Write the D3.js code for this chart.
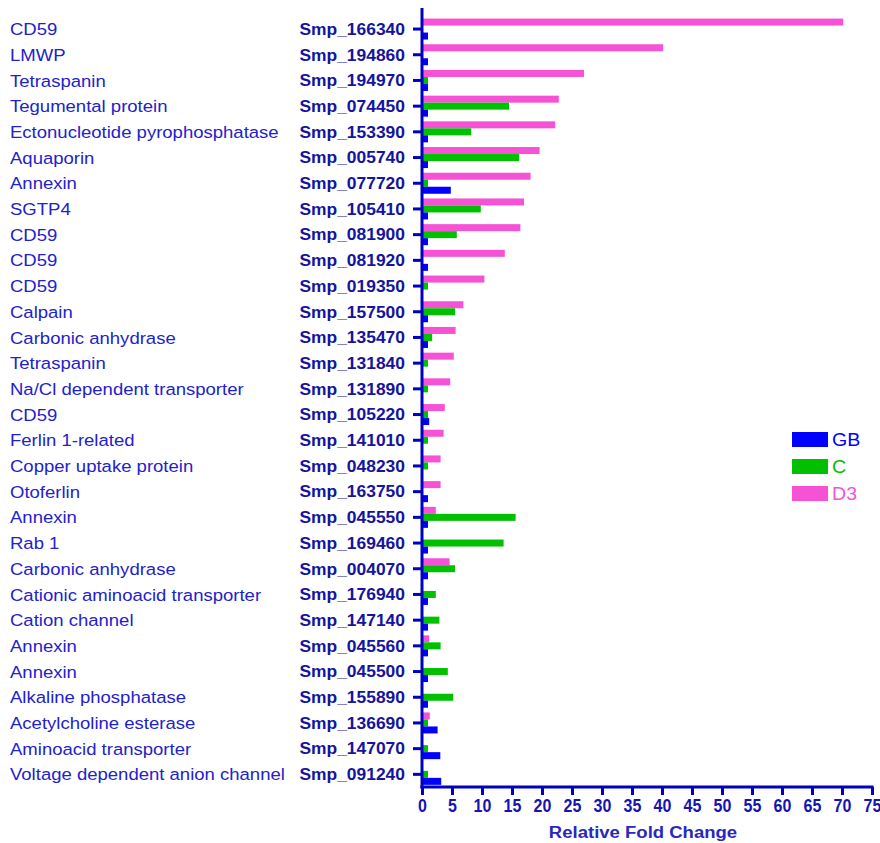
<!DOCTYPE html>
<html>
<head>
<meta charset="utf-8">
<script src="https://cdn.jsdelivr.net/npm/d3@7"></script>
<style>
  html, body { margin: 0; padding: 0; background: #ffffff; }
  svg { display: block; font-family: "Liberation Sans", Arial, sans-serif; }
</style>
</head>
<body>
<svg id="chart" width="880" height="843"></svg>
<script>
// Gene names and their Schistosoma mansoni identifiers, top to bottom
const genes = [
  "CD59", "LMWP", "Tetraspanin", "Tegumental protein", "Ectonucleotide pyrophosphatase",
  "Aquaporin", "Annexin", "SGTP4", "CD59", "CD59", "CD59", "Calpain", "Carbonic anhydrase",
  "Tetraspanin", "Na/Cl dependent transporter", "CD59", "Ferlin 1-related",
  "Copper uptake protein", "Otoferlin", "Annexin", "Rab 1", "Carbonic anhydrase",
  "Cationic aminoacid transporter", "Cation channel", "Annexin", "Annexin",
  "Alkaline phosphatase", "Acetylcholine esterase", "Aminoacid transporter",
  "Voltage dependent anion channel"
];
const ids = [
  "Smp_166340", "Smp_194860", "Smp_194970", "Smp_074450", "Smp_153390",
  "Smp_005740", "Smp_077720", "Smp_105410", "Smp_081900", "Smp_081920", "Smp_019350",
  "Smp_157500", "Smp_135470", "Smp_131840", "Smp_131890", "Smp_105220", "Smp_141010",
  "Smp_048230", "Smp_163750", "Smp_045550", "Smp_169460", "Smp_004070", "Smp_176940",
  "Smp_147140", "Smp_045560", "Smp_045500", "Smp_155890", "Smp_136690", "Smp_147070",
  "Smp_091240"
];

// Relative fold change per life stage (null = not detected)
const gbValues = [1, 1, 1, 1, 1, 1, 4.8, 1, 1, 1, null, 1, 1, null, null, 1.2, null, null, 1, 1,
  1, 1, 1, 1, 1, 1, 1, 2.6, 3.05, 3.2];
const cValues = [null, null, 1, 14.5, 8.2, 16.2, 1, 9.8, 5.8, null, 1, 5.5, 1.7, 1, 1, 1, 1, 1,
  null, 15.6, 13.6, 5.5, 2.3, 2.9, 3.1, 4.3, 5.2, 1, 1, 1];
const d3Values = [70.2, 40.2, 27.0, 22.8, 22.2, 19.6, 18.1, 17.0, 16.4, 13.8, 10.4, 6.9, 5.6, 5.3,
  4.7, 3.8, 3.6, 3.1, 3.1, 2.3, null, 4.6, null, null, 1.2, null, null, 1.3, null, null];

const xTicks = [0, 5, 10, 15, 20, 25, 30, 35, 40, 45, 50, 55, 60, 65, 70, 75];

const seriesNames = ["D3", "C", "GB"];               // drawn top to bottom within a row
const legendOrder = ["GB", "C", "D3"];
const seriesColor = { GB: "#0000ff", C: "#00c000", D3: "#f552d6" };
const seriesValues = { GB: gbValues, C: cValues, D3: d3Values };

const axisColor = "#0000c0";
const stretch = 1.09;   // slight horizontal widening of the lettering

const svg = d3.select("#chart");
const rows = genes.map((g, i) => ({ i, gene: g, id: ids[i] }));

const x = d3.scaleLinear().domain([0, 75]).range([422, 872]);
const y = d3.scaleBand().domain(d3.range(genes.length)).range([16.2, 787.2]).padding(0);
const groupH = 21;
const ySub = d3.scaleBand().domain(seriesNames).range([0, groupH]).padding(0);

// Bars
const rowG = svg.append("g").selectAll("g").data(rows).join("g")
  .attr("transform", d => `translate(0,${y(d.i) + y.bandwidth() / 2 - groupH / 2})`);

rowG.selectAll("rect")
  .data(d => seriesNames
    .map(s => ({ s, v: seriesValues[s][d.i] }))
    .filter(e => e.v !== null))
  .join("rect")
  .attr("x", x(0))
  .attr("y", e => ySub(e.s))
  .attr("width", e => x(e.v) - x(0))
  .attr("height", ySub.bandwidth())
  .attr("fill", e => seriesColor[e.s]);

// Helper for horizontally widened text
function wideText(parent, tx, ty, str, opts) {
  return parent.append("text")
    .attr("transform", `translate(${tx},${ty}) scale(${opts.sx || stretch},1)`)
    .attr("text-anchor", opts.anchor || "start")
    .attr("dy", "0.36em")
    .attr("font-size", opts.size)
    .attr("font-weight", opts.weight || "normal")
    .attr("fill", opts.fill)
    .text(str);
}

// Gene names on the far left
const nameG = svg.append("g");
rows.forEach(d => {
  wideText(nameG, 10, y(d.i) + y.bandwidth() / 2, d.gene,
    { size: 17, fill: "#2222cc" });
});

// Y axis: identifiers as tick labels
const yAxis = d3.axisLeft(y).tickSize(9).tickSizeOuter(0).tickPadding(0)
  .tickFormat(i => ids[i]);
const yAxisG = svg.append("g").attr("transform", `translate(${x(0)},0)`).call(yAxis);
yAxisG.select(".domain").remove();
yAxisG.selectAll(".tick line").attr("stroke", axisColor).attr("stroke-width", 3);
yAxisG.selectAll(".tick text")
  .attr("x", null).attr("dy", null)
  .attr("transform", `translate(-17,0) scale(${stretch},1)`)
  .attr("dy", "0.36em")
  .attr("font-family", "Liberation Sans, Arial, sans-serif")
  .attr("font-size", 16).attr("font-weight", "bold").attr("fill", "#14149e");

// X axis
const xAxis = d3.axisBottom(x).tickValues(xTicks).tickSize(8).tickSizeOuter(0).tickPadding(1.5)
  .tickFormat(d3.format("d"));
const xAxisG = svg.append("g").attr("transform", "translate(0,787)").call(xAxis);
xAxisG.select(".domain").remove();
xAxisG.selectAll(".tick line").attr("stroke", axisColor).attr("stroke-width", 3);
xAxisG.selectAll(".tick text")
  .attr("transform", "scale(1,1.2)")
  .attr("font-family", "Liberation Sans, Arial, sans-serif")
  .attr("font-size", 16).attr("font-weight", "bold").attr("fill", "#1414b4");

// Axis lines
svg.append("line")
  .attr("x1", x(0)).attr("x2", x(0)).attr("y1", 8).attr("y2", 788.5)
  .attr("stroke", axisColor).attr("stroke-width", 3);
svg.append("line")
  .attr("x1", x(0) - 1.5).attr("x2", x(75) + 1.5).attr("y1", 787).attr("y2", 787)
  .attr("stroke", axisColor).attr("stroke-width", 3);

// Axis title
wideText(svg, 643, 832, "Relative Fold Change",
  { size: 17, weight: "bold", anchor: "middle", fill: "#2828c0" });

// Legend
const legend = svg.append("g").attr("transform", "translate(792,432)");
legendOrder.forEach((s, k) => {
  const ly = k * 27;
  legend.append("rect")
    .attr("x", 0).attr("y", ly).attr("width", 36).attr("height", 15)
    .attr("fill", seriesColor[s]);
  wideText(legend, 40, ly + 7.5, s, { size: 18, fill: seriesColor[s] });
});
</script>
</body>
</html>
